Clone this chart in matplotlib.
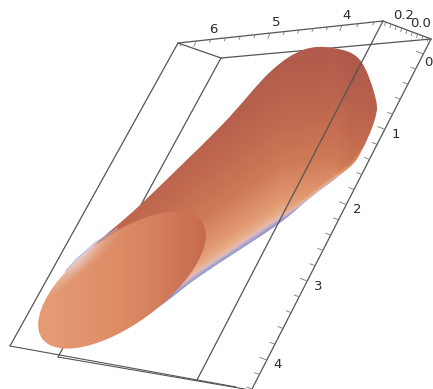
import numpy as np
import matplotlib
matplotlib.use("Agg")
import matplotlib.pyplot as plt
from matplotlib.colors import LinearSegmentedColormap
from matplotlib.patches import Ellipse, PathPatch
from matplotlib.path import Path

plt.rcParams["font.family"] = ["DejaVu Sans"]

W, H = 433, 389

# Box wireframe (projected pixel positions)
corner_back_left = (178, 43)
corner_back_right = (383, 21)
corner_right = (431, 39)
corner_front = (221, 58)
foot_back_left = (10, 346)
foot_front = (58, 357)
foot_back_right = (197, 380)
foot_right = (252, 389)
foot_end_upper = (236, 387)
foot_end_lower = (262, 392)

# Axis ticks: value -> projected position
depth_values = [6.6, 6, 5, 4, 3.55]
depth_x = [152, 196, 270, 342, 378]
depth_minor = np.arange(3.6, 6.4, 0.2)
depth_labels = ["6", "5", "4"]
depth_label_x = [213, 276, 347]
depth_label_y = [29, 22, 15]

length_values = [0, 1, 2, 3, 4, 4.4]
length_y = [54, 129.3, 204.5, 281, 360, 389]
length_minor = np.arange(0, 4.41, 0.2)
length_labels = ["0", "1", "2", "3", "4"]
length_label_x = [428, 396, 357, 318, 278]
length_label_y = [62, 134, 209, 286, 364]

top_ticks = [0.02, 0.06, 0.10, 0.14, 0.18, 0.22, 0.26, 0.30, 0.34]
top_labels = ["0.2", "0.0"]
top_label_x = [404, 421]
top_label_y = [15, 23]

# Tube silhouette
body_x = [66, 100, 140, 220, 270, 303, 333, 360, 376, 374, 362, 350, 310, 277, 200, 157, 120]
body_y = [274, 240, 205, 127, 72, 50, 48, 60, 100, 122, 150, 167, 198, 225, 276, 308, 325]
edge_x = [120, 157, 200, 277, 310, 350, 362, 380]
edge_y = [332, 308, 276, 225, 198, 167, 152, 152]
rim_x = [66, 76, 95, 117]
rim_y = [271, 260, 243, 229]

# End cap ellipse
cap_center = (122, 280)
cap_major, cap_minor, cap_angle = 198, 88, -36.4

# Colour ramps of the rendered surface
body_stops = [0, 2, 5, 9, 18, 50, 80, 110, 140, 170]
body_colors = ["#8d90c8", "#a9a3d2", "#e3bdb4", "#e8ad8a", "#e29a71",
               "#ce7956", "#c46c50", "#b9624d", "#b15c4c", "#ab584b"]
cap_stops = [0, 0.3, 0.6, 1]
cap_colors = ["#e49a73", "#df9069", "#d88460", "#c76a4d"]
cap_fade = "#ecdcdc"
rim_color = "#aaaad8"


def smooth_path(xs, ys):
    """Closed Catmull-Rom outline as Bezier segments."""
    pts = np.column_stack([xs, ys]).astype(float)
    n = len(pts)
    verts = [pts[0]]
    codes = [Path.MOVETO]
    for i in range(n - 1):
        p0 = pts[i - 1] if i > 0 else pts[i]
        p1, p2 = pts[i], pts[i + 1]
        p3 = pts[i + 2] if i + 2 < n else pts[i + 1]
        verts += [p1 + (p2 - p0) / 6, p2 - (p3 - p1) / 6, p2]
        codes += [Path.CURVE4] * 3
    verts.append(pts[0])
    codes.append(Path.CLOSEPOLY)
    return Path(verts, codes)


fig = plt.figure(figsize=(W / 100, H / 100), dpi=100)
ax = fig.add_axes([0, 0, 1, 1])
ax.axis("off")

line = dict(color="#555555", lw=0.9, solid_capstyle="round", zorder=5)


def seg(a, b, **kw):
    ax.plot([a[0], b[0]], [a[1], b[1]], **{**line, **kw})


# Parts of the box behind the tube
seg(corner_back_left, corner_front, zorder=1)
seg(corner_front, corner_right, zorder=1)
seg(corner_back_left, foot_back_left, zorder=1)
seg(corner_front, foot_front, zorder=1)

# Tube body
gx, gy = np.meshgrid(np.arange(0, W, 0.5), np.arange(0, H, 0.5))
low_edge = np.interp(gx, edge_x, edge_y)
u = np.clip((low_edge - gy) * 0.85, 0, None)
away = np.clip(u / 5, 0, 1)
tip_shift = np.clip((gx - 280) / 90, 0, 1) * 50
blue_off = np.clip((gx - 335) / 20, 0, 1)
u = np.clip(u + away * tip_shift + blue_off * 25, 0, 170)
cm_body = LinearSegmentedColormap.from_list(
    "body", [(s / 170, c) for s, c in zip(body_stops, body_colors)])
body_patch = PathPatch(smooth_path(body_x, body_y), fc="none", ec="none")
ax.add_patch(body_patch)
im = ax.imshow(u / 170, extent=(0, W, H, 0), cmap=cm_body, vmin=0, vmax=1,
               interpolation="bilinear", aspect="auto", zorder=2)
im.set_clip_path(body_patch)

# Thin blue rim behind the cap's upper left side
ax.plot(rim_x, rim_y, color=rim_color, lw=1.2, alpha=0.75, zorder=2.5)

# End cap
cap_patch = Ellipse(cap_center, cap_major, cap_minor, angle=cap_angle, fc="none", ec="none")
ax.add_patch(cap_patch)
cm_cap = LinearSegmentedColormap.from_list("cap", list(zip(cap_stops, cap_colors)))
shade = np.clip((gx - 55) / 150, 0, 1)
rgb = cm_cap(shade)[..., :3]
# Pale fade along the upper left of the cap, measured across the rim line
rim_slope = (rim_y[-1] - rim_y[0]) / (rim_x[-1] - rim_x[0])
rim_line_y = rim_y[0] + (gx - rim_x[0]) * rim_slope
depth = np.clip((gy - rim_line_y) / 14, 0, 1)
along = np.exp(-((gx - 78) / 28) ** 2)
fade = (1 - depth) * along * 0.7
fade_rgb = np.array(matplotlib.colors.to_rgb(cap_fade))
rgb = rgb * (1 - fade[..., None]) + fade_rgb * fade[..., None]
imc = ax.imshow(rgb, extent=(0, W, H, 0), interpolation="bilinear", aspect="auto", zorder=3)
imc.set_clip_path(cap_patch)
ax.set_xlim(0, W)
ax.set_ylim(H, 0)

# Front box lines
seg(corner_back_left, corner_back_right)
seg(corner_back_right, corner_right)
seg(corner_back_right, foot_back_right)
seg(corner_right, foot_right)
seg(foot_back_left, foot_end_upper, lw=0.8)
seg(foot_front, foot_end_lower, lw=0.8)

label_style = dict(ha="center", va="center", fontsize=9.5, color="#2a2a2a", zorder=6)


# Depth axis along the back edge
def depth_pos(v):
    x = np.interp(v, depth_values[::-1], depth_x[::-1])
    slope = (corner_back_right[1] - corner_back_left[1]) / (corner_back_right[0] - corner_back_left[0])
    return x, corner_back_left[1] + (x - corner_back_left[0]) * slope


for v_ in depth_minor:
    x, y = depth_pos(v_)
    major = abs(v_ - round(v_)) < 1e-6
    k = 1.7 if major else 1.0
    ax.plot([x, x - 1.2 * k], [y, y + 3 * k], color="#777777", lw=0.6, zorder=5)
for s, x, y in zip(depth_labels, depth_label_x, depth_label_y):
    ax.text(x, y, s, **label_style)


# Length axis along the right edge
def length_pos(v):
    y = np.interp(v, length_values, length_y)
    x = corner_right[0] + (y - corner_right[1]) * (foot_right[0] - corner_right[0]) / (foot_right[1] - corner_right[1])
    return x, y


for v_ in length_minor:
    x, y = length_pos(v_)
    major = abs(v_ - round(v_)) < 1e-6
    k = 1.0 if major else 0.7
    ax.plot([x, x - 7 * k], [y, y - 2.6 * k], color="#777777", lw=0.6, zorder=5)
for s, x, y in zip(length_labels, length_label_x, length_label_y):
    ax.text(x, y, s, **label_style)

# Short axis along the top right edge
for t in top_ticks:
    f = t / 0.36
    x = corner_right[0] + (corner_back_right[0] - corner_right[0]) * f
    y = corner_right[1] + (corner_back_right[1] - corner_right[1]) * f
    ax.plot([x, x - 1], [y, y + 3.5], color="#777777", lw=0.6, zorder=5)
for s, x, y in zip(top_labels, top_label_x, top_label_y):
    ax.text(x, y, s, **label_style)

fig.savefig("out.png", dpi=100)
